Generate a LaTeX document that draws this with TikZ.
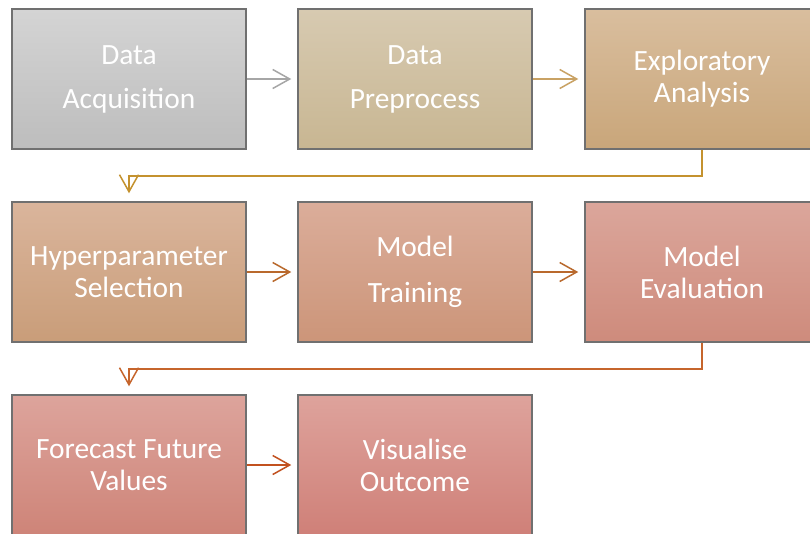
\documentclass[tikz,border=0pt]{standalone}
\usepackage{fontspec}
\setmainfont{Carlito}
\usetikzlibrary{arrows.meta}
\definecolor{edgegray}{HTML}{707070}
\definecolor{aGray}{HTML}{A6A6A6}
\definecolor{aTan}{HTML}{C9A264}
\definecolor{aGold}{HTML}{C4922F}
\definecolor{aBrown}{HTML}{B9692D}
\definecolor{aOrange}{HTML}{C6652C}
\definecolor{aRust}{HTML}{C2511F}
\tikzset{
  box/.style={draw=edgegray, line width=1.5pt, minimum width=234pt, minimum height=140pt,
    inner sep=0pt, text=white, align=center, font=\fontsize{29.4}{32}\selectfont},
  conn/.style={line width=1.5pt, -{Straight Barb[length=17pt,width=19pt,line width=1.5pt]}, shorten >=6pt},
  elbow/.style={line width=1.5pt, -{Straight Barb[length=17pt,width=19pt,line width=1.5pt]}, shorten >=8pt}
}
\begin{document}
\begin{tikzpicture}[x=1pt,y=-1pt]
\clip (0,0) rectangle (810,533);
\fill[white] (0,0) rectangle (810,533);
\node[box, top color={rgb,255:red,212;green,212;blue,212}, bottom color={rgb,255:red,189;green,189;blue,189}] (b1) at (129,79) {Data\\[12pt]Acquisition};
\node[box, top color={rgb,255:red,215;green,202;blue,177}, bottom color={rgb,255:red,200;green,182;blue,146}] (b2) at (415,79) {Data\\[12pt]Preprocess};
\node[box, top color={rgb,255:red,217;green,190;blue,158}, bottom color={rgb,255:red,201;green,166;blue,122}] (b3) at (702,79) {Exploratory\\Analysis};
\node[box, top color={rgb,255:red,218;green,181;blue,156}, bottom color={rgb,255:red,201;green,157;blue,121}] (b4) at (129,272) {Hyperparameter\\Selection};
\node[box, top color={rgb,255:red,219;green,173;blue,154}, bottom color={rgb,255:red,204;green,149;blue,121}] (b5) at (415,272) {Model\\[14pt]Training};
\node[box, top color={rgb,255:red,219;green,166;blue,155}, bottom color={rgb,255:red,206;green,139;blue,124}] (b6) at (702,272) {Model\\Evaluation};
\node[box, top color={rgb,255:red,221;green,164;blue,156}, bottom color={rgb,255:red,206;green,132;blue,120}] (b7) at (129,465) {Forecast Future\\Values};
\node[box, top color={rgb,255:red,222;green,163;blue,156}, bottom color={rgb,255:red,207;green,128;blue,120}] (b8) at (415,465) {Visualise\\Outcome};
\draw[conn, aGray] (b1.east) -- (b2.west);
\draw[conn, aTan] (b2.east) -- (b3.west);
\draw[elbow, aGold] (b3.south) -- ++(0,26) -| (b4.north);
\draw[conn, aBrown] (b4.east) -- (b5.west);
\draw[conn, aBrown] (b5.east) -- (b6.west);
\draw[elbow, aOrange] (b6.south) -- ++(0,26) -| (b7.north);
\draw[conn, aRust] (b7.east) -- (b8.west);
\end{tikzpicture}
\end{document}
